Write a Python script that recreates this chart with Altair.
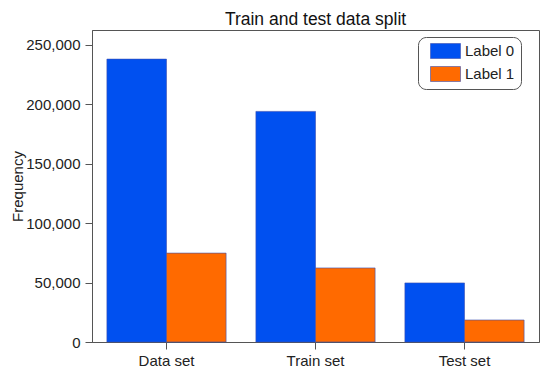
import altair as alt
import pandas as pd

categories = ["Data set", "Train set", "Test set"]
label0 = [238000, 194000, 49700]
label1 = [74800, 62300, 18500]
series = ["Label 0", "Label 1"]

rows = []
for i, c in enumerate(categories):
    rows.append({"set": c, "label": series[0], "freq": label0[i]})
    rows.append({"set": c, "label": series[1], "freq": label1[i]})
df = pd.DataFrame(rows)

font = "Liberation Sans"

chart = alt.Chart(df).mark_bar(stroke="#3a4fb0", strokeWidth=0.6).encode(
    x=alt.X("set:N", sort=categories, title=None,
            scale=alt.Scale(paddingInner=0.2, paddingOuter=0.1),
            axis=alt.Axis(labelAngle=0, labelFontSize=15, labelColor="#222",
                          tickSize=7, tickColor="#555", domainColor="#555",
                          labelPadding=4, labelFont=font)),
    xOffset=alt.XOffset("label:N", sort=series),
    y=alt.Y("freq:Q", title="Frequency",
            scale=alt.Scale(domain=[0, 262500], nice=False),
            axis=alt.Axis(values=[0, 50000, 100000, 150000, 200000, 250000],
                          format=",.0f", grid=False, labelFontSize=15,
                          labelColor="#222", tickSize=7, tickColor="#555",
                          domainColor="#555", labelPadding=5, labelFont=font,
                          titleFont=font, titleFontSize=15,
                          titleFontWeight="normal", titleColor="#222",
                          titlePadding=0)),
    color=alt.Color("label:N", sort=series,
                    scale=alt.Scale(domain=series, range=["#0050F0", "#FF6A00"]),
                    legend=alt.Legend(title=None, orient="none",
                                      legendX=326, legendY=7,
                                      symbolType="M-0.2,-1H3.8V1H-0.2Z",
                                      symbolSize=225, symbolStrokeWidth=0.6,
                                      labelFontSize=15, labelFont=font,
                                      labelColor="#222",
                                      strokeColor="#555", cornerRadius=8,
                                      padding=6, rowPadding=5,
                                      fillColor="white", labelOffset=25)),
).properties(
    width=447, height=312,
    title=alt.TitleParams("Train and test data split", fontSize=17.5,
                          font=font, fontWeight="normal", color="#111",
                          offset=2),
    autosize=alt.AutoSizeParams(type="none"),
    padding={"left": 84, "top": 22, "right": 3, "bottom": 25},
).configure_view(stroke="#555", strokeWidth=1)

chart.save("out.html", embed_options={"renderer": "svg", "actions": False})
